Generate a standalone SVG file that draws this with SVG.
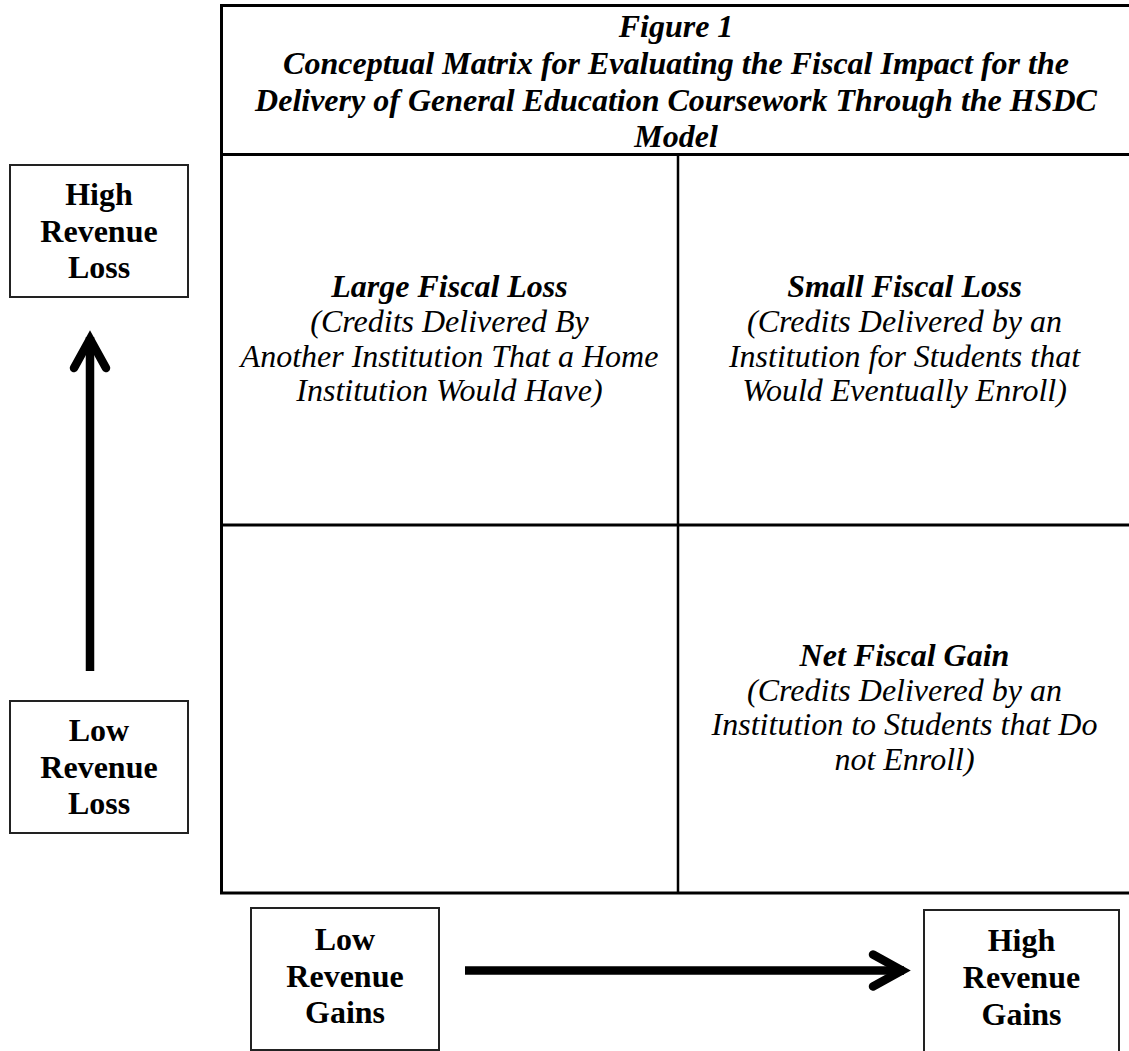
<svg xmlns="http://www.w3.org/2000/svg" width="1129" height="1051" viewBox="0 0 1129 1051">
<style>
  .title { font-family: "Liberation Serif", "Times New Roman", serif; font-size: 32px; font-weight: bold; font-style: italic; fill: #000; text-anchor: middle; }
  .head { font-family: "Liberation Serif", "Times New Roman", serif; font-size: 32px; font-weight: bold; font-style: italic; fill: #000; text-anchor: middle; }
  .body { font-family: "Liberation Serif", "Times New Roman", serif; font-size: 32px; font-style: italic; fill: #000; text-anchor: middle; }
  .lbl { font-family: "Liberation Serif", "Times New Roman", serif; font-size: 32px; font-weight: bold; fill: #000; text-anchor: middle; }
  .grid { fill: none; stroke: #000; stroke-width: 3; }
  .inner { fill: none; stroke: #000; stroke-width: 2.5; }
  .box { fill: #fff; stroke: #222; stroke-width: 2; }
  .arrow { fill: none; stroke: #000; stroke-width: 8.5; marker-end: url(#head); }
</style>
<defs>
  <marker id="head" markerUnits="userSpaceOnUse" markerWidth="60" markerHeight="60" viewBox="-40 -30 60 60" refX="0" refY="0" orient="auto" overflow="visible">
    <path d="M-31,-16 L-2,0 L-31,16" fill="none" stroke="#000" stroke-width="8.5" stroke-linecap="round" stroke-linejoin="miter"/>
  </marker>
</defs>
<rect width="1129" height="1051" fill="#fff"/>

<g id="matrix">
  <rect class="grid" x="221.5" y="5.5" width="930" height="887.5"/>
  <line class="grid" x1="221" y1="154.5" x2="1129" y2="154.5"/>
  <line class="grid" x1="221" y1="525" x2="1129" y2="525"/>
  <line class="inner" x1="678" y1="154.5" x2="678" y2="893"/>
</g>

<g id="title">
  <text class="title" x="676" y="37">Figure 1</text>
  <text class="title" x="676" y="74">Conceptual Matrix for Evaluating the Fiscal Impact for the</text>
  <text class="title" x="676" y="110.5">Delivery of General Education Coursework Through the HSDC</text>
  <text class="title" x="676" y="147">Model</text>
</g>

<g id="large-fiscal-loss">
  <text class="head" x="449.5" y="297">Large Fiscal Loss</text>
  <text class="body" x="449.5" y="332">(Credits Delivered By</text>
  <text class="body" x="449.5" y="366.5">Another Institution That a Home</text>
  <text class="body" x="449.5" y="401">Institution Would Have)</text>
</g>

<g id="small-fiscal-loss">
  <text class="head" x="904.5" y="297">Small Fiscal Loss</text>
  <text class="body" x="904.5" y="332">(Credits Delivered by an</text>
  <text class="body" x="904.5" y="366.5">Institution for Students that</text>
  <text class="body" x="904.5" y="401">Would Eventually Enroll)</text>
</g>

<g id="net-fiscal-gain">
  <text class="head" x="904.5" y="666">Net Fiscal Gain</text>
  <text class="body" x="904.5" y="700.5">(Credits Delivered by an</text>
  <text class="body" x="904.5" y="735">Institution to Students that Do</text>
  <text class="body" x="904.5" y="769.5">not Enroll)</text>
</g>

<g id="high-revenue-loss">
  <rect class="box" x="10" y="165" width="178" height="132"/>
  <text class="lbl" x="99" y="205">High</text>
  <text class="lbl" x="99" y="242">Revenue</text>
  <text class="lbl" x="99" y="278">Loss</text>
</g>

<g id="low-revenue-loss">
  <rect class="box" x="10" y="701" width="178" height="132"/>
  <text class="lbl" x="99" y="741">Low</text>
  <text class="lbl" x="99" y="778">Revenue</text>
  <text class="lbl" x="99" y="814">Loss</text>
</g>

<g id="low-revenue-gains">
  <rect class="box" x="251" y="908" width="188" height="142"/>
  <text class="lbl" x="345" y="950">Low</text>
  <text class="lbl" x="345" y="987">Revenue</text>
  <text class="lbl" x="345" y="1023">Gains</text>
</g>

<g id="high-revenue-gains">
  <rect class="box" x="924" y="910" width="195" height="160"/>
  <text class="lbl" x="1021.5" y="951">High</text>
  <text class="lbl" x="1021.5" y="988">Revenue</text>
  <text class="lbl" x="1021.5" y="1025">Gains</text>
</g>

<g id="connectors">
  <line class="arrow" x1="90" y1="671" x2="90" y2="337"/>
  <line class="arrow" x1="465" y1="970.5" x2="904" y2="970.5"/>
</g>
</svg>
